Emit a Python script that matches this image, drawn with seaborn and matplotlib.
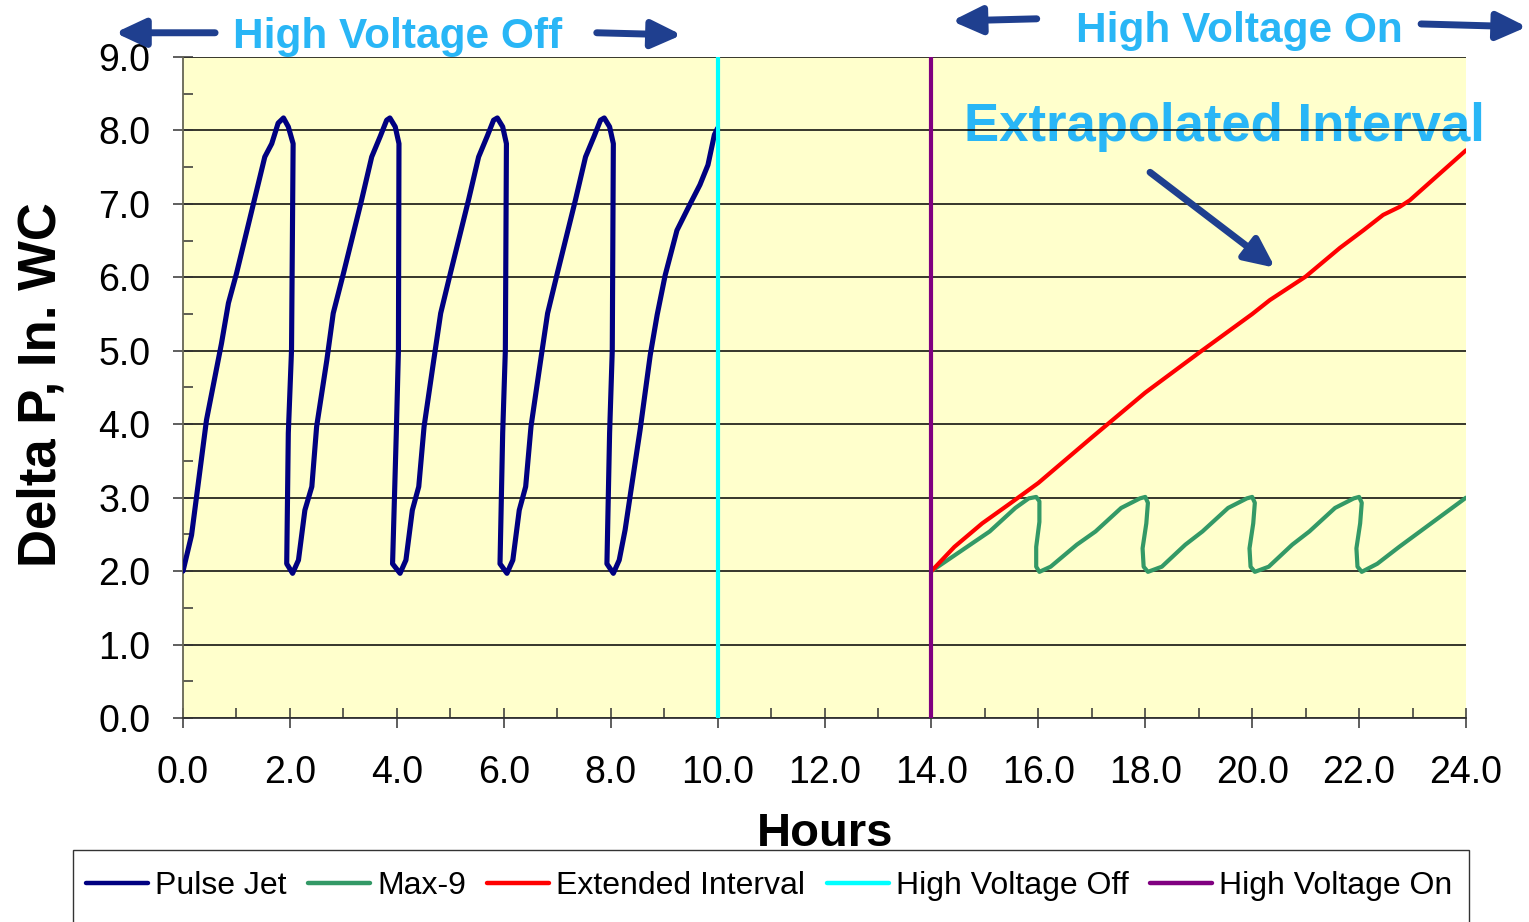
import matplotlib
matplotlib.use("Agg")
import matplotlib.pyplot as plt
from matplotlib.ticker import MultipleLocator, FormatStrFormatter
from matplotlib.lines import Line2D
from matplotlib.patches import Rectangle
import seaborn as sns
import pandas as pd

# ---------------- data ----------------
pulse_jet_x = [0.00, 0.16, 0.44, 0.72, 0.85, 1.00, 1.35, 1.53, 1.66, 1.78, 1.88, 1.97, 2.06, 2.03, 1.97, 1.94,
               2.05, 2.16, 2.28, 2.41, 2.50, 2.69, 2.81, 3.00, 3.34, 3.53, 3.69, 3.81, 3.87, 3.97, 4.04, 4.03, 3.99, 3.92,
               4.06, 4.17, 4.29, 4.41, 4.51, 4.69, 4.82, 5.00, 5.34, 5.53, 5.69, 5.81, 5.88, 5.98, 6.05, 6.03, 5.98, 5.93,
               6.06, 6.17, 6.29, 6.41, 6.51, 6.69, 6.82, 7.00, 7.34, 7.53, 7.69, 7.81, 7.88, 7.98, 8.05, 8.03, 7.98, 7.93,
               8.05, 8.16, 8.27, 8.38, 8.55, 8.74, 8.87, 9.02, 9.24, 9.48, 9.67, 9.82, 9.94, 10.00]
pulse_jet_y = [2.00, 2.49, 4.06, 5.10, 5.65, 6.05, 7.10, 7.64, 7.82, 8.10, 8.17, 8.05, 7.82, 5.01, 3.88, 2.10,
               1.97, 2.15, 2.83, 3.15, 3.97, 4.87, 5.51, 6.05, 7.05, 7.64, 7.92, 8.14, 8.17, 8.05, 7.82, 5.01, 3.88, 2.10,
               1.97, 2.15, 2.83, 3.15, 3.97, 4.87, 5.51, 6.05, 7.05, 7.64, 7.92, 8.14, 8.17, 8.05, 7.82, 5.01, 3.88, 2.10,
               1.97, 2.15, 2.83, 3.15, 3.97, 4.87, 5.51, 6.05, 7.05, 7.64, 7.92, 8.14, 8.17, 8.05, 7.82, 5.01, 3.88, 2.10,
               1.97, 2.15, 2.56, 3.10, 3.92, 4.94, 5.49, 6.03, 6.64, 6.99, 7.26, 7.53, 7.94, 8.03]

max9_x = [14.00, 15.09, 15.57, 15.82, 15.96, 16.02, 16.02, 15.96, 15.96, 16.02,
          16.23, 16.72, 17.07, 17.55, 17.90, 18.00, 18.05, 18.02, 17.95, 17.97, 18.05,
          18.31, 18.75, 19.07, 19.55, 19.90, 20.00, 20.05, 20.02, 19.95, 19.97, 20.05,
          20.31, 20.75, 21.07, 21.55, 21.90, 22.00, 22.05, 22.02, 21.95, 21.97, 22.05,
          22.34, 22.75, 24.00]
max9_y = [2.00, 2.54, 2.86, 2.99, 3.01, 2.95, 2.67, 2.33, 2.06, 1.99,
          2.06, 2.36, 2.54, 2.86, 2.99, 3.01, 2.93, 2.65, 2.31, 2.06, 1.99,
          2.06, 2.36, 2.54, 2.86, 2.99, 3.01, 2.93, 2.65, 2.31, 2.06, 1.99,
          2.06, 2.36, 2.54, 2.86, 2.99, 3.01, 2.93, 2.65, 2.31, 2.06, 1.99,
          2.10, 2.33, 3.00]

ext_x = [14.00, 14.43, 14.95, 15.47, 16.00, 17.00, 18.00, 19.00, 20.00, 20.33, 21.00,
         21.64, 22.08, 22.45, 22.76, 22.95, 24.00]
ext_y = [2.00, 2.33, 2.65, 2.92, 3.20, 3.82, 4.43, 4.97, 5.50, 5.69, 6.01,
         6.40, 6.64, 6.85, 6.96, 7.05, 7.73]

hv_off_x = [10.0, 10.0]
hv_off_y = [0.0, 9.0]
hv_on_x = [14.0, 14.0]
hv_on_y = [0.0, 9.0]

series_names = ["Pulse Jet", "Max-9", "Extended Interval", "High Voltage Off", "High Voltage On"]
series_colors = ["#000080", "#339966", "#FF0000", "#00FFFF", "#800080"]

# ---------------- style ----------------
sns.set_style("ticks")
plt.rcParams["font.family"] = ["Liberation Sans", "DejaVu Sans"]
plt.rcParams["text.color"] = "black"
plt.rcParams["axes.labelcolor"] = "black"

W, H = 1529, 922
fig = plt.figure(figsize=(W / 100, H / 100), dpi=100)
ax = fig.add_axes([183 / W, 1 - 718 / H, (1466 - 183) / W, (718 - 57) / H])
ax.set_facecolor("#FFFFCC")

series = [(pulse_jet_x, pulse_jet_y, 3.7), (max9_x, max9_y, 3.0), (ext_x, ext_y, 3.0),
          (hv_off_x, hv_off_y, 3.0), (hv_on_x, hv_on_y, 3.0)]
for (xs, ys, lw), name, col in zip(series, series_names, series_colors):
    df = pd.DataFrame({"x": xs, "y": ys})
    sns.lineplot(data=df, x="x", y="y", sort=False, estimator=None, color=col,
                 linewidth=lw, ax=ax, legend=False, zorder=3)
for ln in ax.get_lines():
    ln.set_solid_joinstyle("round")
    ln.set_solid_capstyle("round")

ax.set_xlim(0, 24)
ax.set_ylim(0, 9)
ax.xaxis.set_major_locator(MultipleLocator(2))
ax.xaxis.set_minor_locator(MultipleLocator(1))
ax.yaxis.set_major_locator(MultipleLocator(1))
ax.yaxis.set_minor_locator(MultipleLocator(0.5))
ax.xaxis.set_major_formatter(FormatStrFormatter("%.1f"))
ax.yaxis.set_major_formatter(FormatStrFormatter("%.1f"))
ax.tick_params(which="major", direction="inout", length=15, width=1.1, color="#333333",
               labelsize=27, labelcolor="black")
ax.tick_params(axis="x", which="major", pad=19)
ax.tick_params(axis="y", which="major", pad=16)
ax.tick_params(which="minor", direction="in", length=7.5, width=1.1, color="#333333")
ax.yaxis.grid(True, which="major", color="black", linewidth=1.1)
ax.xaxis.grid(False)
ax.set_axisbelow(True)
for s in ["top", "right"]:
    ax.spines[s].set_visible(False)
ax.spines["left"].set_color("#666655")
ax.spines["bottom"].set_color("#333333")
ax.spines["left"].set_linewidth(1.3)
ax.spines["bottom"].set_linewidth(1.3)

ax.set_xlabel("Hours", fontsize=34, fontweight="bold", color="black")
ax.xaxis.label.set_va("center")
ax.xaxis.set_label_coords(0.5004, -0.176)
ax.set_ylabel("Delta P, In. WC", fontsize=38, fontweight="bold", color="black")
ax.yaxis.label.set_va("center")
ax.yaxis.set_label_coords(-0.110, 0.504)

# ---------------- annotations ----------------
txt_col = "#29B6F6"
arr_col = "#1F3F8F"
ax.text(4.02, 9.27, "High Voltage Off", fontsize=30.5, fontweight="bold", color=txt_col,
        ha="center", va="center", clip_on=False)
ax.text(19.77, 9.36, "High Voltage On", fontsize=30.5, fontweight="bold", color=txt_col,
        ha="center", va="center", clip_on=False)
ax.text(19.49, 8.05, "Extrapolated Interval", fontsize=38, fontweight="bold", color=txt_col,
        ha="center", va="center", clip_on=False, zorder=0.4)

aprops = dict(arrowstyle="-|>,head_length=0.9,head_width=0.42", lw=5, color=arr_col,
              mutation_scale=20, shrinkA=0, shrinkB=0)
arrows = [((0.60, 9.33), (-1.27, 9.33)), ((7.74, 9.33), (9.33, 9.30)),
          ((15.97, 9.52), (14.38, 9.49)), ((23.16, 9.45), (25.14, 9.41)),
          ((18.09, 7.43), (20.43, 6.13))]
for tail, head in arrows:
    ax.annotate("", xy=head, xytext=tail, arrowprops=aprops, annotation_clip=False)

# ---------------- legend ----------------
handles = [Line2D([0], [0], color=c, lw=3.2) for c in series_colors]
leg = fig.legend(handles, series_names, loc="center left", ncol=5,
                 bbox_to_anchor=(86 / W, 1 - 886 / H),
                 borderaxespad=0, frameon=False,
                 handlelength=1.95, handletextpad=0.22, columnspacing=0.66,
                 borderpad=0.0, prop={"size": 23}, labelcolor="black")
fig.patches.append(Rectangle((73 / W, 1 - 935 / H), 1396 / W, 85 / H,
                             transform=fig.transFigure, fill=False,
                             edgecolor="#333333", linewidth=1.0))

fig.savefig("out.png", dpi=100)
